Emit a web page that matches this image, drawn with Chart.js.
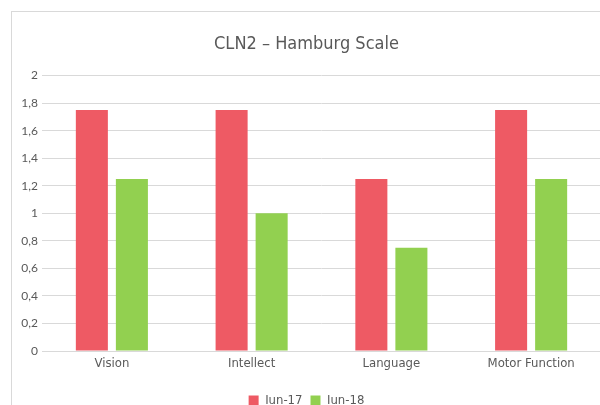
<!DOCTYPE html>
<html>
<head>
<meta charset="utf-8">
<script src="https://cdn.jsdelivr.net/npm/chart.js@4"></script>
<style>
  html, body { margin: 0; padding: 0; background: #fff; overflow: hidden; }
  #frame {
    position: absolute; left: 11px; top: 11px;
    width: 600px; height: 410px;
    border: 1px solid #d9d9d9;
  }
  #wrap { position: absolute; left: 0; top: 0; width: 589px; height: 405px; }
</style>
</head>
<body>
<div id="frame"><div id="wrap"><canvas id="chart"></canvas></div></div>
<script>
    // --- Data ---
    const categories = ['Vision', 'Intellect', 'Language', 'Motor Function'];
    const seriesNames = ['Iun-17', 'Iun-18'];
    const jun17 = [1.75, 1.75, 1.25, 1.75];
    const jun18 = [1.25, 1.0, 0.75, 1.25];
    const yMin = 0, yMax = 2, yStep = 0.2;

    const textColor = '#595959';
    const gridColor = '#d9d9d9';

    const ctx = document.getElementById('chart').getContext('2d');
    new Chart(ctx, {
        type: 'bar',
        data: {
            labels: categories,
            datasets: [
                { label: seriesNames[0], data: jun17, backgroundColor: '#ee5a64' },
                { label: seriesNames[1], data: jun18, backgroundColor: '#92d050' }
            ]
        },
        options: {
            responsive: true,
            maintainAspectRatio: false,
            animation: false,
            layout: { padding: { top: 12, left: 0, right: 0, bottom: 0 } },
            datasets: { bar: { categoryPercentage: 0.573, barPercentage: 0.8 } },
            plugins: {
                title: {
                    display: true,
                    text: 'CLN2 – Hamburg Scale',
                    color: textColor,
                    font: { family: 'DejaVu Sans Condensed, DejaVu Sans', size: 18, weight: 'normal' },
                    padding: { top: 10, bottom: 20 }
                },
                legend: {
                    position: 'bottom',
                    labels: {
                        color: textColor,
                        boxWidth: 10, boxHeight: 10,
                        padding: 8,
                        font: { family: 'DejaVu Sans Condensed, DejaVu Sans', size: 13 }
                    }
                },
                tooltip: { enabled: false }
            },
            scales: {
                x: {
                    grid: { display: false },
                    border: { color: gridColor },
                    ticks: {
                        padding: -3,
                        color: textColor,
                        font: { family: 'DejaVu Sans Condensed, DejaVu Sans', size: 13 }
                    },
                    afterFit: (scale) => { scale.height = 35; }
                },
                y: {
                    min: yMin, max: yMax,
                    grid: { color: gridColor, lineWidth: 1, drawTicks: false },
                    border: { display: false },
                    ticks: {
                        stepSize: yStep,
                        padding: 4,
                        color: textColor,
                        font: { family: 'Lato', size: 12 },
                        callback: (v) => String(Math.round(v * 10) / 10).replace('.', ',')
                    },
                    afterFit: (scale) => { scale.width = 30; }
                }
            }
        }
    });
</script>
</body>
</html>
